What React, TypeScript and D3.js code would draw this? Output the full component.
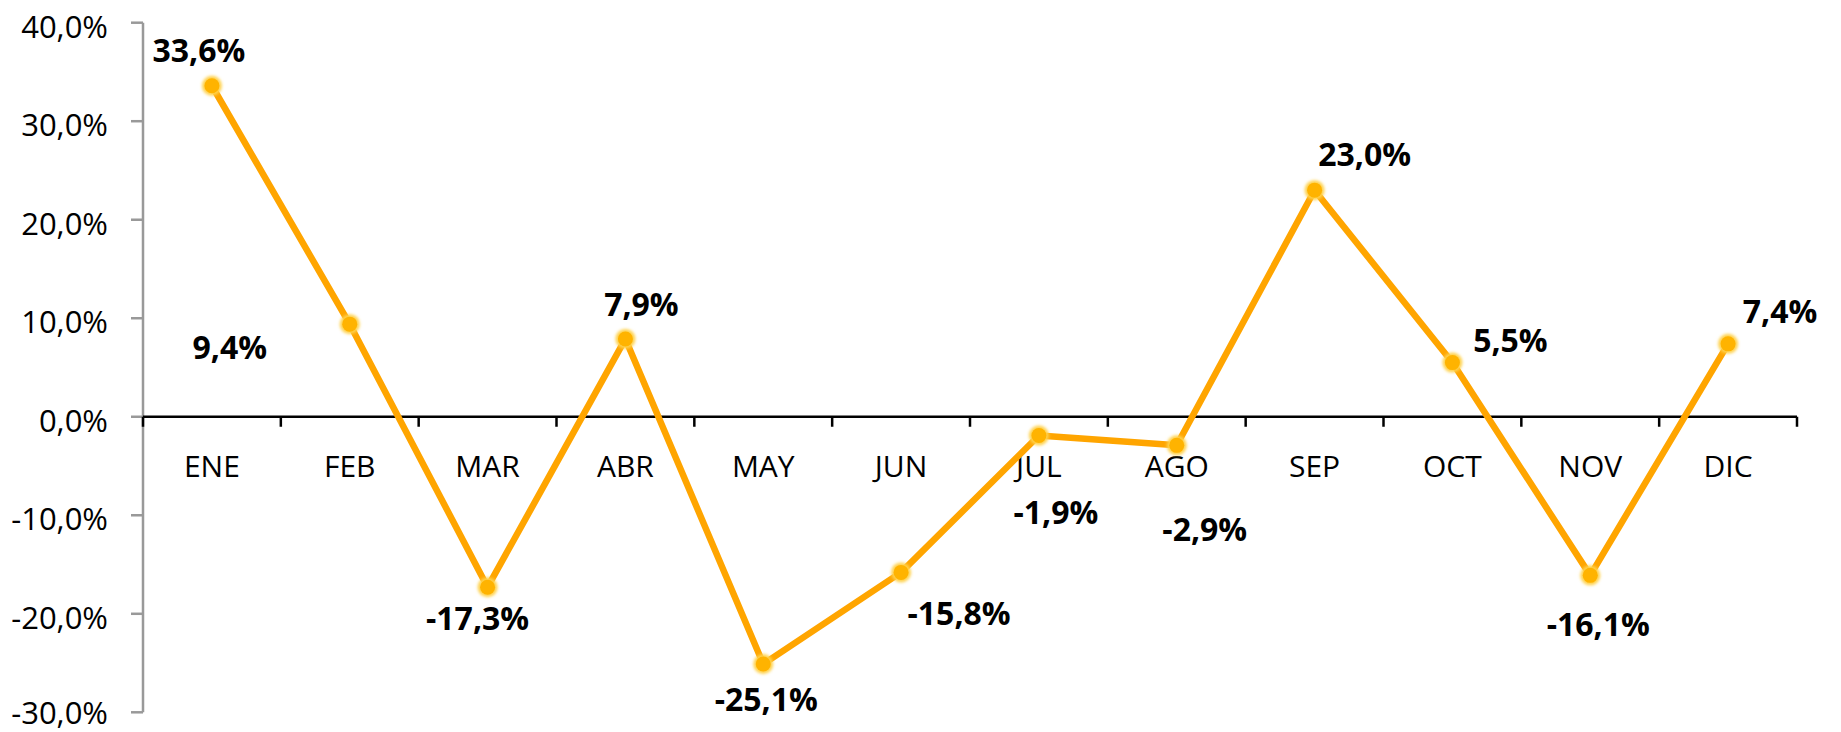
import React from "react";
import * as d3 from "d3";

// monthly variation (%)
const months = ["ENE", "FEB", "MAR", "ABR", "MAY", "JUN", "JUL", "AGO", "SEP", "OCT", "NOV", "DIC"];
const values = [33.6, 9.4, -17.3, 7.9, -25.1, -15.8, -1.9, -2.9, 23.0, 5.5, -16.1, 7.4];
const yTicks = [40, 30, 20, 10, 0, -10, -20, -30];

// where each data label sits relative to its point (px)
const labelOffsets: [number, number][] = [
  [-13, -36], [-120, 22], [-10, 30], [16, -35], [3, 34], [58, 40],
  [17, 76], [28, 83], [50, -37], [58, -23], [8, 48], [52, -33],
];

const W = 1841;
const H = 732;
const left = 143;
const right = 1797;
const top = 22.7;
const bottom = 712.3;

const fmt = (v: number) => v.toFixed(1).replace(".", ",") + "%";

export default function App() {
  const x = d3.scaleBand<string>().domain(months).range([left, right]);
  const y = d3.scaleLinear().domain([-30, 40]).range([bottom, top]);
  const cx = (m: string) => (x(m) as number) + x.bandwidth() / 2;

  const line = d3
    .line<number>()
    .x((d, i) => cx(months[i]))
    .y(d => y(d));

  const boundaries = months.map(m => x(m) as number).concat([right]);
  const font = "'Open Sans', sans-serif";

  return (
    <svg width={W} height={H} style={{ position: "absolute", left: 0, top: 0, background: "#fff" }}>
      <defs>
        <filter id="glow" x="-50%" y="-50%" width="200%" height="200%">
          <feGaussianBlur stdDeviation="1.6" />
        </filter>
      </defs>

      {/* y axis */}
      <line x1={left} x2={left} y1={y(40)} y2={y(-30)} stroke="#999" strokeWidth={2.5} />
      {yTicks.map(t => (
        <g key={t}>
          <line x1={left - 12} x2={left} y1={y(t)} y2={y(t)} stroke="#999" strokeWidth={2.5} />
          <text
            x={108}
            y={y(t) + (t === -30 ? 0 : 3)}
            textAnchor="end"
            dominantBaseline="central"
            fontFamily={font}
            fontSize={31}
            fill="#000"
          >
            {fmt(t)}
          </text>
        </g>
      ))}

      {/* x axis at zero */}
      <line x1={left} x2={right} y1={y(0)} y2={y(0)} stroke="#000" strokeWidth={2.5} />
      {boundaries.map((b, i) => (
        <line key={i} x1={b} x2={b} y1={y(0)} y2={y(0) + 10} stroke="#000" strokeWidth={2.5} />
      ))}
      {months.map(m => (
        <text
          key={m}
          x={cx(m)}
          y={465}
          textAnchor="middle"
          dominantBaseline="central"
          fontFamily={font}
          fontSize={30}
          fill="#000"
        >
          {m}
        </text>
      ))}

      {/* series */}
      <path d={line(values) || ""} fill="none" stroke="#FFA500" strokeWidth={6.5} strokeLinejoin="round" />
      {values.map((v, i) => (
        <g key={i}>
          <circle cx={cx(months[i])} cy={y(v)} r={10} fill="#FFD24D" filter="url(#glow)" />
          <circle cx={cx(months[i])} cy={y(v)} r={7.5} fill="#FFB300" />
        </g>
      ))}

      {/* data labels */}
      {values.map((v, i) => (
        <text
          key={i}
          x={cx(months[i]) + labelOffsets[i][0]}
          y={y(v) + labelOffsets[i][1]}
          textAnchor="middle"
          dominantBaseline="central"
          fontFamily={font}
          fontWeight="bold"
          fontSize={32}
          fill="#000"
        >
          {fmt(v)}
        </text>
      ))}
    </svg>
  );
}
